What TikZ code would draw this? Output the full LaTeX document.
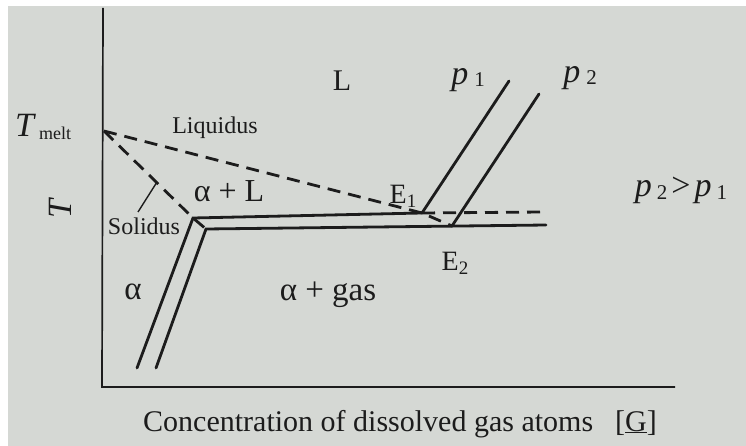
\documentclass[tikz,border=0pt]{standalone}
\usepackage{fontspec}
\setmainfont{Liberation Serif}
\usepackage{xcolor}
\usepackage{tikz}
\usetikzlibrary{positioning}

\definecolor{paper}{RGB}{213,216,212}
\definecolor{ink}{RGB}{28,28,28}
\newcommand{\fsz}[1]{\fontsize{#1}{#1}\selectfont}

\begin{document}
\begin{tikzpicture}[x=1pt, y=-1pt, >=latex,
	every node/.style={text=ink, inner sep=0pt},
	axis/.style={draw=ink, line width=1.7pt},
	phase/.style={draw=ink, line width=2.8pt, line cap=round},
	bound/.style={draw=ink, line width=2.8pt, dash pattern=on 13pt off 8pt},
	leader/.style={draw=ink, line width=1.4pt}]
			\fill[white] (0,0) rectangle (746,446);
			\fill[paper] (8,6) rectangle (746,446);
			
			\coordinate (ytop) at (103,8);
			\coordinate (origin) at (102,387);
			\coordinate (xend) at (675,387);
			\coordinate (tm) at (104,131);
			\coordinate (oc) at (193,218);
			\coordinate (ob) at (137,368);
			\coordinate (ic) at (206,229);
			\coordinate (ib) at (156,368);
			\coordinate (e1) at (422,213);
			\coordinate (e2) at (452,226);
			\coordinate (lowend) at (546,225);
			\coordinate (dashend) at (543,212);
			\coordinate (p1top) at (509,81);
			\coordinate (p2top) at (539,94);
			\coordinate (solhead) at (157,182);
			\coordinate (solfoot) at (138,212);
			
			\node (tmelt) [anchor=base west] at (15,137) {\fsz{34}\textit{T}\hspace{3pt}\raisebox{-3pt}{\fsz{18}melt}};
			\node (tlabel) [rotate=90] at (60,208) {\fsz{34}\textit{T}};
			\node (liquidus) [anchor=base] at (215,134) {\fsz{24}Liquidus};
			\node (liq) [anchor=base] at (342,91) {\fsz{30}L};
			\node (alphaliq) [anchor=base] at (229,202) {\fsz{32}α + L};
			\node (solidus) [anchor=base] at (144,235) {\fsz{24}Solidus};
			\node (alpha) [anchor=base] at (133,299) {\fsz{33}α};
			\node (alphagas) [anchor=base] at (328,300) {\fsz{33}α + gas};
			\node (eone) [anchor=base] at (403,204) {\fsz{28}E\raisebox{-4pt}{\fsz{19}1}};
			\node (etwo) [anchor=base] at (455,270) {\fsz{28}E\raisebox{-4pt}{\fsz{19}2}};
			\node (pone) [anchor=base] at (468,85) {\fsz{34}\textit{p}\hspace{6pt}\raisebox{-2pt}{\fsz{21}1}};
			\node (ptwo) [anchor=base] at (580,83) {\fsz{34}\textit{p}\hspace{6pt}\raisebox{-2pt}{\fsz{21}2}};
			\node (pcomp) [anchor=base] at (681,197) {\fsz{34}\textit{p}\hspace{5pt}\raisebox{-2pt}{\fsz{21}2}\hspace{4pt}>\hspace{4pt}\textit{p}\hspace{5pt}\raisebox{-2pt}{\fsz{21}1}};
			\node (xlabel) [anchor=base] at (400,431) {\fsz{30}Concentration of dissolved gas atoms\hspace{22pt}[\underline{G}]};
			
			\draw[axis] (ytop) -- (origin) -- (xend);
			
			\draw[phase] (ob) -- (oc) -- (e1);
			\draw[phase] (ib) -- (ic) -- (lowend);
			\draw[phase] (e1) -- (p1top);
			\draw[phase] (e2) -- (p2top);
			
			\draw[bound] (tm) -- (e1) -- (e2);
			\draw[bound] (tm) -- (oc) -- (ic);
			\draw[bound] (e1) -- (dashend);
			
			\draw[leader] (solfoot) -- (solhead);
		\end{tikzpicture}
\end{document}
